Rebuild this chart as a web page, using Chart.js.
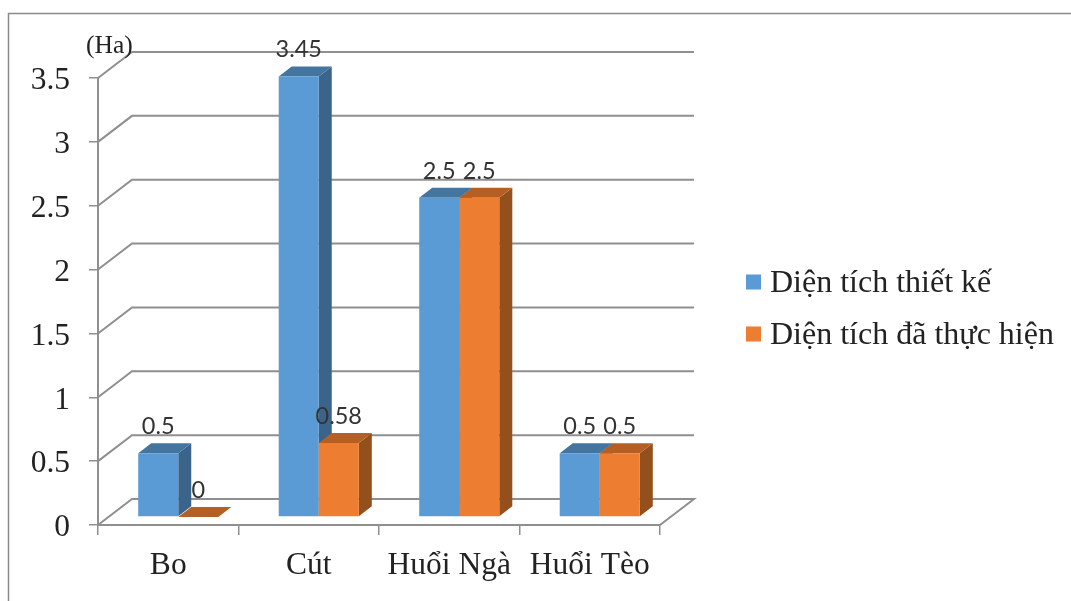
<!DOCTYPE html>
<html>
<head>
<meta charset="utf-8">
<title>Diện tích</title>
<style>
    html, body { margin: 0; padding: 0; background: #fff; }
    canvas { display: block; }
</style>
<script src="https://cdn.jsdelivr.net/npm/chart.js@4/dist/chart.umd.min.js"></script>
</head>
<body>
<canvas id="chart" width="1071" height="601"></canvas>
<script>
const categories = ['Bo', 'Cút', 'Huổi Ngà', 'Huổi Tèo'];
const dienTichThietKe = [0.5, 3.45, 2.5, 0.5];
const dienTichThucHien = [0, 0.58, 2.5, 0.5];
const yTicks = [0, 0.5, 1, 1.5, 2, 2.5, 3, 3.5];
const unitLabel = '(Ha)';

const SERIF = '"Liberation Serif", "Times New Roman", serif';
const GRID = '#8f8f8f';

/* Colores de cada serie: frente, tapa y lado */
const BLUE = { front: '#5b9bd5', top: '#44759f', side: '#3a6489' };
const ORANGE = { front: '#ed7d31', top: '#b65f25', side: '#94501c' };

/* Desplazamiento de la perspectiva */
const WALL = { dx: 34, dy: -26 };
const BAR_SHIFT = { dx: 10, dy: -8 };
const BAR_DEPTH = { dx: 13, dy: -10 };

function polygon(ctx, pts, color) {
    ctx.fillStyle = color;
    ctx.beginPath();
    pts.forEach((p, i) => i ? ctx.lineTo(p[0], p[1]) : ctx.moveTo(p[0], p[1]));
    ctx.closePath();
    ctx.fill();
}

/* Tapa y lado de las barras de una serie */
function drawDepth(ctx, meta, colors) {
    const { dx, dy } = BAR_DEPTH;
    meta.data.forEach(bar => {
        const left = bar.x - bar.width / 2;
        const right = bar.x + bar.width / 2;
        polygon(ctx, [[right, bar.y], [right + dx, bar.y + dy], [right + dx, bar.base + dy], [right, bar.base]], colors.side);
        polygon(ctx, [[left, bar.y], [left + dx, bar.y + dy], [right + dx, bar.y + dy], [right, bar.y]], colors.top);
    });
}

/* Marco, paredes y piso de la gráfica */
const wallsPlugin = {
    id: 'walls',
    beforeDatasetsDraw(chart) {
        const { ctx, scales: { y }, chartArea: area } = chart;
        ctx.save();

        ctx.strokeStyle = '#8a8a8a';
        ctx.lineWidth = 1.5;
        ctx.beginPath();
        ctx.moveTo(8.5, 601);
        ctx.lineTo(8.5, 13.5);
        ctx.lineTo(1071, 13.5);
        ctx.stroke();

        ctx.strokeStyle = GRID;
        ctx.lineWidth = 2;
        yTicks.forEach(v => {
            const py = y.getPixelForValue(v);
            ctx.beginPath();
            ctx.moveTo(area.left, py);
            ctx.lineTo(area.left + WALL.dx, py + WALL.dy);
            ctx.lineTo(area.right + WALL.dx, py + WALL.dy);
            if (v === 0) ctx.lineTo(area.right, py);
            ctx.stroke();
        });

        ctx.fillStyle = '#222';
        ctx.font = '25.5px ' + SERIF;
        ctx.textBaseline = 'alphabetic';
        ctx.textAlign = 'left';
        ctx.fillText(unitLabel, 86, 53);
        ctx.restore();
    },
    /* La serie azul va primero para que la naranja le tape el lado */
    beforeDatasetDraw() {
        return false;
    },
    afterDatasetsDraw(chart) {
        const { ctx, data } = chart;

        ctx.save();
        ctx.translate(BAR_SHIFT.dx, BAR_SHIFT.dy);
        [BLUE, ORANGE].forEach((colors, i) => {
            const meta = chart.getDatasetMeta(i);
            drawDepth(ctx, meta, colors);
            meta.controller.draw();
        });
        ctx.restore();

        /* Valores encima de cada barra */
        ctx.save();
        ctx.fillStyle = '#333';
        ctx.font = '23.5px Lato, Carlito, sans-serif';
        ctx.textAlign = 'center';
        ctx.textBaseline = 'alphabetic';
        data.datasets.forEach((ds, i) => {
            chart.getDatasetMeta(i).data.forEach((bar, j) => {
                ctx.fillText(String(ds.data[j]), bar.x + BAR_SHIFT.dx, bar.y + BAR_SHIFT.dy - 19);
            });
        });
        ctx.restore();
    }
};

/* Leyenda a la derecha, con el cuadro pegado al texto */
const sideLegend = {
    id: 'sideLegend',
    afterDraw(chart) {
        const { ctx, data } = chart;
        ctx.save();
        ctx.font = '32px ' + SERIF;
        ctx.textAlign = 'left';
        ctx.textBaseline = 'alphabetic';
        data.datasets.forEach((ds, i) => {
            const top = 274.5 + i * 52;
            ctx.fillStyle = ds.backgroundColor;
            ctx.fillRect(746, top, 15, 15);
            ctx.fillStyle = '#222';
            ctx.fillText(ds.label, 770, top + 17);
        });
        ctx.restore();
    }
};

const dataChart = new Chart(
    document.getElementById('chart'),
    {
    type: 'bar',
    plugins: [wallsPlugin, sideLegend],
    data: {
        labels: categories,
        datasets: [
        {
            label: 'Diện tích thiết kế',
            data: dienTichThietKe,
            backgroundColor: BLUE.front
        },
        {
            label: 'Diện tích đã thực hiện',
            data: dienTichThucHien,
            backgroundColor: ORANGE.front
        }
        ]
    },
    options: {
        responsive: false,
        animation: false,
        layout: {
            padding: { left: 0, top: 78, right: 411, bottom: 0 }
        },
        datasets: {
            bar: { barPercentage: 1, categoryPercentage: 0.57 }
        },
        plugins: {
            legend: { display: false },
            tooltip: { enabled: false }
        },
        scales: {
            x: {
                afterFit(scale) { scale.height = 76; },
                border: { color: GRID, width: 2 },
                grid: { drawOnChartArea: false, color: GRID, lineWidth: 1.5, tickLength: 10 },
                ticks: {
                    color: '#222',
                    padding: 12,
                    maxRotation: 0,
                    autoSkip: false,
                    font: { family: SERIF, size: 31.5 }
                }
            },
            y: {
                min: 0,
                max: 3.5,
                afterFit(scale) { scale.width = 98; },
                afterBuildTicks(scale) { scale.ticks = yTicks.map(value => ({ value })); },
                border: { color: GRID, width: 2 },
                grid: { drawOnChartArea: false, color: GRID, lineWidth: 1.5, tickLength: 9 },
                ticks: {
                    color: '#222',
                    padding: 19,
                    labelOffset: 3,
                    callback: v => String(v),
                    font: { family: SERIF, size: 31.5 }
                }
            }
        }
    }
    }
);
</script>
</body>
</html>
